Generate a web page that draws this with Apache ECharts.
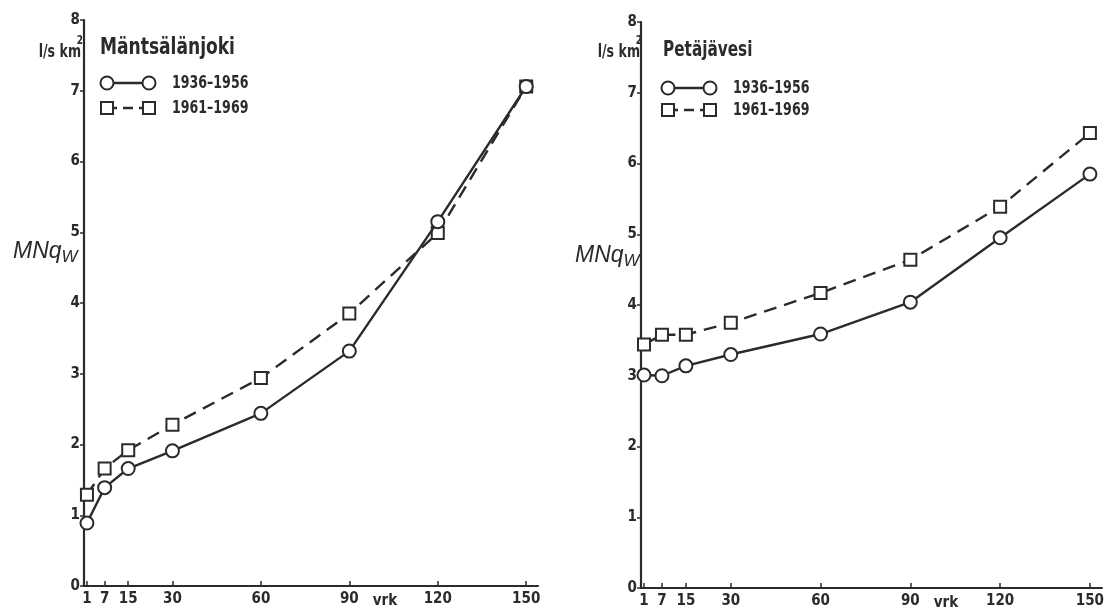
<!DOCTYPE html>
<html>
<head>
<meta charset="utf-8">
<script src="https://cdn.jsdelivr.net/npm/echarts@6/dist/echarts.min.js"></script>
<style>
html,body{margin:0;padding:0;background:#fff;}
#c{width:1107px;height:614px;}
</style>
</head>
<body>
<div id="c"></div>
<script>
// ---- data ----
const days = [1, 7, 15, 30, 60, 90, 120, 150];
const xTickLabels = [1, 7, 15, 30, 60, 90, 120, 150];
const yTickLabels = [0, 1, 2, 3, 4, 5, 6, 7, 8];
const seriesNames = ['1936–1956', '1961–1969'];
const titles = ['Mäntsälänjoki', 'Petäjävesi'];
const mantsala1936 = [0.89, 1.39, 1.66, 1.91, 2.44, 3.32, 5.15, 7.06];
const mantsala1961 = [1.29, 1.66, 1.92, 2.28, 2.94, 3.85, 4.99, 7.06];
const petaja1936 = [3.01, 3.00, 3.14, 3.30, 3.59, 4.04, 4.95, 5.85];
const petaja1961 = [3.44, 3.58, 3.58, 3.75, 4.17, 4.64, 5.39, 6.43];

const INK = '#2b2b2b';
const FONT = '"DejaVu Sans Condensed", "DejaVu Sans", sans-serif';
const TALL = 1.25;

function pairs(vals) { return days.map((d, i) => [d, vals[i]]); }

function xAxis(idx) {
  return {
    type: 'value', gridIndex: idx, min: 0, max: 154,
    axisLine: { show: true, lineStyle: { color: INK, width: 2.2 } },
    axisTick: { show: true, inside: true, length: 5, lineStyle: { color: INK, width: 1.5 }, customValues: xTickLabels },
    axisLabel: { show: true, customValues: xTickLabels, color: INK, fontFamily: FONT, fontWeight: 'bold', fontSize: 15, margin: 6 },
    splitLine: { show: false }
  };
}
function yAxis(idx) {
  return {
    type: 'value', gridIndex: idx, min: 0, max: 8, interval: 1,
    axisLine: { show: true, lineStyle: { color: INK, width: 2.2 } },
    axisTick: { show: true, length: 4, lineStyle: { color: INK, width: 1.5 } },
    axisLabel: { show: true, color: INK, fontFamily: FONT, fontWeight: 'bold', fontSize: 15, margin: 4 },
    splitLine: { show: false }
  };
}
function solid(name, vals, idx) {
  return {
    type: 'line', name: name, xAxisIndex: idx, yAxisIndex: idx, data: pairs(vals),
    symbol: 'circle', symbolSize: 13, showAllSymbol: true,
    lineStyle: { color: INK, width: 2.4 },
    itemStyle: { color: '#fff', borderColor: INK, borderWidth: 2 },
    z: 3
  };
}
function dashed(name, vals, idx) {
  return {
    type: 'line', name: name, xAxisIndex: idx, yAxisIndex: idx, data: pairs(vals),
    symbol: 'rect', symbolSize: 12, showAllSymbol: true,
    lineStyle: { color: INK, width: 2.4, type: [13, 8] },
    itemStyle: { color: '#fff', borderColor: INK, borderWidth: 2 },
    z: 2
  };
}
function txt(x, y, s, font, align) {
  return { type: 'text', x: x, y: y, scaleY: TALL,
    style: { text: s, fill: INK, font: font, textAlign: align || 'left', textVerticalAlign: 'middle' } };
}

function legendGraphics(x0, x1, y1, y2, tx) {
  const g = [];
  g.push({ type: 'line', shape: { x1: x0, y1: y1, x2: x1, y2: y1 }, style: { stroke: INK, lineWidth: 2.4 } });
  g.push({ type: 'circle', shape: { cx: x0, cy: y1, r: 6.5 }, style: { fill: '#fff', stroke: INK, lineWidth: 2 } });
  g.push({ type: 'circle', shape: { cx: x1, cy: y1, r: 6.5 }, style: { fill: '#fff', stroke: INK, lineWidth: 2 } });
  g.push({ type: 'line', shape: { x1: x0, y1: y2, x2: x1, y2: y2 }, style: { stroke: INK, lineWidth: 2.4, lineDash: [10, 6] } });
  g.push({ type: 'rect', shape: { x: x0 - 6, y: y2 - 6, width: 12, height: 12 }, style: { fill: '#fff', stroke: INK, lineWidth: 2 } });
  g.push({ type: 'rect', shape: { x: x1 - 6, y: y2 - 6, width: 12, height: 12 }, style: { fill: '#fff', stroke: INK, lineWidth: 2 } });
  g.push(txt(tx, y1, seriesNames[0], 'bold 14px ' + FONT));
  g.push(txt(tx, y2, seriesNames[1], 'bold 14px ' + FONT));
  return g;
}
function unitText(xRight, y) {
  return [
    txt(xRight, y, 'l/s km', 'bold 14px ' + FONT, 'right'),
    txt(xRight + 2, y - 11, '2', 'bold 10px ' + FONT, 'right')
  ];
}
function mnq(x, y) {
  return {
    type: 'text', x: x, y: y,
    style: {
      text: '{a|MNq}{b|W}', textVerticalAlign: 'middle',
      rich: {
        a: { fontFamily: '"Liberation Sans", sans-serif', fontStyle: 'italic', fontSize: 23, fill: INK, color: INK },
        b: { fontFamily: '"Liberation Sans", sans-serif', fontStyle: 'italic', fontSize: 17, fill: INK, color: INK, padding: [10, 0, 0, 0] }
      }
    }
  };
}

const graphics = []
  .concat(legendGraphics(107, 149, 83, 108, 172))
  .concat(legendGraphics(668, 710, 88, 110, 733))
  .concat(unitText(81, 52))
  .concat(unitText(640, 52))
  .concat([
    txt(100, 48, titles[0], 'bold 19px ' + FONT),
    txt(663, 50, titles[1], 'bold 17px ' + FONT),
    mnq(13, 252),
    mnq(575, 256),
    { type: 'text', x: 385, y: 601, style: { text: 'vrk', fill: INK, font: 'bold 15px ' + FONT, textAlign: 'center', textVerticalAlign: 'middle' } },
    { type: 'text', x: 946, y: 603, style: { text: 'vrk', fill: INK, font: 'bold 15px ' + FONT, textAlign: 'center', textVerticalAlign: 'middle' } }
  ]);

const chart = echarts.init(document.getElementById('c'), null, { renderer: 'canvas' });
chart.setOption({
  backgroundColor: '#ffffff',
  animation: false,
  grid: [
    { left: 84, top: 20, width: 454, height: 566 },
    { left: 641, top: 22, width: 462, height: 566 }
  ],
  xAxis: [xAxis(0), xAxis(1)],
  yAxis: [yAxis(0), yAxis(1)],
  series: [
    solid(seriesNames[0], mantsala1936, 0),
    dashed(seriesNames[1], mantsala1961, 0),
    solid(seriesNames[0], petaja1936, 1),
    dashed(seriesNames[1], petaja1961, 1)
  ],
  graphic: graphics
});
</script>
</body>
</html>
